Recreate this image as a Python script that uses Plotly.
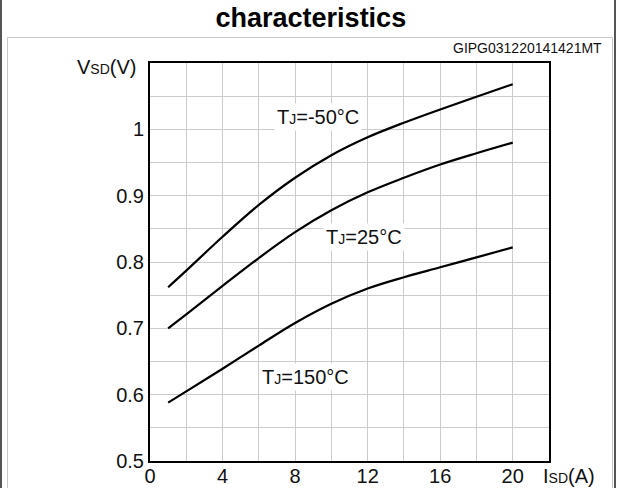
import plotly.graph_objects as go

# ---- data ----
isd = [1, 2, 4, 6, 8, 10, 12, 14, 16, 18, 20]
v_m50 = [0.762, 0.787, 0.838, 0.886, 0.927, 0.961, 0.988, 1.010, 1.030, 1.049, 1.068]
v_25 = [0.700, 0.721, 0.764, 0.806, 0.845, 0.878, 0.905, 0.927, 0.947, 0.964, 0.980]
v_150 = [0.588, 0.605, 0.639, 0.674, 0.708, 0.737, 0.760, 0.777, 0.792, 0.807, 0.822]

x_tickvals = [0, 2, 4, 6, 8, 10, 12, 14, 16, 18, 20]
x_ticktext = ["0", "", "4", "", "8", "", "12", "", "16", "", "20"]
y_tickvals = [0.5, 0.55, 0.6, 0.65, 0.7, 0.75, 0.8, 0.85, 0.9, 0.95, 1.0, 1.05]
y_ticktext = ["0.5", "", "0.6", "", "0.7", "", "0.8", "", "0.9", "", "1", ""]

curve_labels = [
    ("T<span style='font-size:14px'>J</span>=-50°C", 9.26, 1.019),
    ("T<span style='font-size:14px'>J</span>=25°C", 11.8, 0.837),
    ("T<span style='font-size:14px'>J</span>=150°C", 8.6, 0.626),
]

FONT = "Liberation Sans, Arial, sans-serif"
W, H = 618, 488
L, R, T, B = 150, 549, 63, 461

def px(x):
    return (x - L) / (R - L)

def py(y):
    return (B - y) / (B - T)

fig = go.Figure()
for v in (v_m50, v_25, v_150):
    fig.add_trace(go.Scatter(x=isd, y=v, mode="lines",
                             line=dict(color="black", width=2.2, shape="spline", smoothing=1.0),
                             showlegend=False, hoverinfo="skip"))

for txt, x, y in curve_labels:
    fig.add_annotation(x=x, y=y, text=txt, showarrow=False,
                       font=dict(family=FONT, size=20, color="#111"),
                       bgcolor="white", borderpad=2)

# axis titles
fig.add_annotation(xref="paper", yref="paper", x=px(138), y=py(67), xanchor="right", yanchor="middle",
                   text="V<span style='font-size:14px'>SD</span>(V)", showarrow=False,
                   font=dict(family=FONT, size=20, color="#111"))
fig.add_annotation(xref="paper", yref="paper", x=px(541), y=py(476), xanchor="left", yanchor="middle",
                   text="I<span style='font-size:14px'>SD</span>(A)", showarrow=False,
                   font=dict(family=FONT, size=20, color="#111"))
# code text
fig.add_annotation(xref="paper", yref="paper", x=px(604), y=py(48), xanchor="right", yanchor="middle",
                   text="GIPG031220141421MT", showarrow=False,
                   font=dict(family=FONT, size=14, color="#111"))

# frame shapes
fig.add_shape(type="rect", xref="paper", yref="paper",
              x0=px(7.5), x1=px(612.5), y0=py(500), y1=py(37.5),
              line=dict(color="#c8c8c8", width=1), layer="below")
for xx in (1, 615):
    fig.add_shape(type="line", xref="paper", yref="paper",
                  x0=px(xx), x1=px(xx), y0=py(0), y1=py(H),
                  line=dict(color="#555", width=2))

fig.update_layout(
    width=W, height=H,
    margin=dict(l=L, r=W - R, t=T, b=H - B, autoexpand=False),
    paper_bgcolor="white", plot_bgcolor="white",
    font=dict(family=FONT, size=20, color="#111"),
    title=dict(text="<b>characteristics</b>", x=0.503, xanchor="center",
               y=1 - 18 / H, yanchor="middle",
               font=dict(family=FONT, size=27, color="black")),
)
fig.update_xaxes(range=[0, 22], tickmode="array", tickvals=x_tickvals, ticktext=x_ticktext,
                 showgrid=True, gridcolor="#cccccc", gridwidth=1, automargin=False,
                 showline=True, linecolor="black", linewidth=2, mirror=True,
                 ticks="", zeroline=False, tickfont=dict(size=20), ticklabelstandoff=-4)
fig.update_yaxes(range=[0.5, 1.1], tickmode="array", tickvals=y_tickvals, ticktext=y_ticktext,
                 showgrid=True, gridcolor="#cccccc", gridwidth=1, automargin=False,
                 showline=True, linecolor="black", linewidth=2, mirror=True,
                 ticks="", zeroline=False, tickfont=dict(size=20))

fig.write_html("out.html")
